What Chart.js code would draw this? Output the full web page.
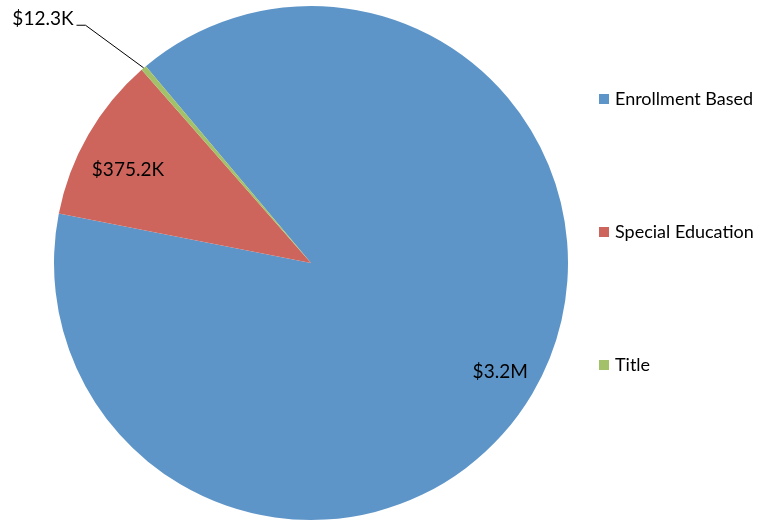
<!DOCTYPE html>
<html>
<head>
<meta charset="utf-8">
<script src="https://cdn.jsdelivr.net/npm/chart.js@4"></script>
<style>
html,body{margin:0;padding:0;background:#fff;}
#wrap{width:767px;height:521px;position:relative;}
</style>
</head>
<body>
<div id="wrap"><canvas id="c"></canvas></div>
<script>
const categories = ["Enrollment Based", "Special Education", "Title"];
const values = [3200000, 375200, 12300];
const valueLabels = ["$3.2M", "$375.2K", "$12.3K"];
const colors = ["#5e95c8", "#cd655d", "#a3c168"];

const FONT = "Lato, 'Open Sans', sans-serif";

const labelPlugin = {
  id: 'labels',
  afterDraw(chart) {
    const ctx = chart.ctx;
    const meta = chart.getDatasetMeta(0);
    ctx.save();
    ctx.fillStyle = '#000';
    ctx.font = '19px ' + FONT;
    meta.data.forEach((arc, i) => {
      const mid = (arc.startAngle + arc.endAngle) / 2;
      const r = arc.outerRadius;
      const cx = arc.x, cy = arc.y;
      if (i === 2) {
        const px = cx + Math.cos(mid) * r, py = cy + Math.sin(mid) * r;
        const ang = mid - 0.05;
        const ex = cx + Math.cos(ang) * r * 1.275, ey = cy + Math.sin(ang) * r * 1.275;
        ctx.strokeStyle = '#000';
        ctx.lineWidth = 1;
        ctx.beginPath();
        ctx.moveTo(px, py);
        ctx.lineTo(ex, ey);
        ctx.lineTo(ex - 9, ey);
        ctx.stroke();
        ctx.textAlign = 'right';
        ctx.textBaseline = 'middle';
        ctx.fillText(valueLabels[i], ex - 12, ey - 6);
      } else {
        const f = i === 0 ? 0.85 : 0.80;
        const a = i === 0 ? mid - 0.01 : mid - 0.05;
        ctx.textAlign = 'center';
        ctx.textBaseline = 'middle';
        ctx.fillText(valueLabels[i], cx + Math.cos(a) * r * f, cy + Math.sin(a) * r * f);
      }
    });
    ctx.font = '18px ' + FONT;
    ctx.textAlign = 'left';
    ctx.textBaseline = 'middle';
    categories.forEach((c, i) => {
      const y = 99 + i * 133;
      ctx.fillStyle = colors[i];
      ctx.fillRect(599, y - 5, 10, 10);
      ctx.fillStyle = '#000';
      ctx.fillText(c, 615, y);
    });
    ctx.restore();
  }
};

new Chart(document.getElementById('c'), {
  type: 'pie',
  data: {
    labels: categories,
    datasets: [{
      data: values,
      backgroundColor: colors,
      borderWidth: 0,
      hoverOffset: 0
    }]
  },
  options: {
    responsive: true,
    maintainAspectRatio: false,
    animation: false,
    rotation: -40,
    layout: { padding: { left: 54, right: 199, top: 6, bottom: 1 } },
    plugins: { legend: { display: false }, tooltip: { enabled: false } }
  },
  plugins: [labelPlugin]
});
</script>
</body>
</html>
